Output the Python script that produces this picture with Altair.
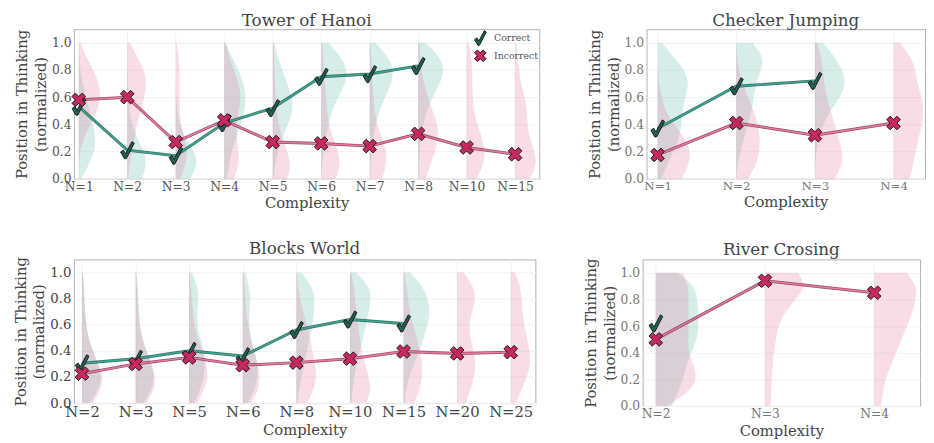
import altair as alt
import pandas as pd

FONT = "DejaVu Serif"
Y_LEVELS = [0.0, 0.1, 0.2, 0.3, 0.4, 0.5, 0.6, 0.7, 0.8, 0.9, 1.0]
Y_TICKS = [0.0, 0.2, 0.4, 0.6, 0.8, 1.0]

# ---------------- Tower of Hanoi ----------------
HANOI_N = ["N=1", "N=2", "N=3", "N=4", "N=5", "N=6", "N=7", "N=8", "N=10", "N=15"]
HANOI_CORRECT = [0.53, 0.21, 0.17, 0.41, 0.52, 0.75, 0.77, 0.83, None, None]
HANOI_INCORRECT = [0.58, 0.60, 0.27, 0.43, 0.27, 0.26, 0.24, 0.33, 0.23, 0.18]
HANOI_VIOLIN_CORRECT = [
    [0.05, 0.20, 0.33, 0.35, 0.30, 0.22, 0.15, 0.08, 0.03, 0.0, 0.0],
    [0.30, 0.40, 0.35, 0.20, 0.10, 0.05, 0.03, 0.02, 0.0, 0.0, 0.0],
    [0.30, 0.45, 0.40, 0.20, 0.08, 0.03, 0.01, 0.0, 0.0, 0.0, 0.0],
    [0.05, 0.10, 0.15, 0.25, 0.35, 0.42, 0.45, 0.40, 0.30, 0.15, 0.03],
    [0.02, 0.05, 0.10, 0.20, 0.32, 0.42, 0.40, 0.30, 0.20, 0.10, 0.03],
    [0.0, 0.02, 0.05, 0.10, 0.15, 0.22, 0.35, 0.50, 0.55, 0.40, 0.15],
    [0.0, 0.02, 0.04, 0.08, 0.12, 0.20, 0.32, 0.45, 0.50, 0.38, 0.12],
    [0.0, 0.02, 0.03, 0.05, 0.10, 0.18, 0.30, 0.45, 0.55, 0.45, 0.15],
    None,
    None,
]
HANOI_VIOLIN_INCORRECT = [
    [0.0, 0.0, 0.02, 0.10, 0.25, 0.38, 0.45, 0.42, 0.30, 0.15, 0.03],
    [0.02, 0.05, 0.10, 0.15, 0.20, 0.28, 0.35, 0.40, 0.35, 0.20, 0.05],
    [0.10, 0.20, 0.25, 0.18, 0.10, 0.08, 0.08, 0.08, 0.08, 0.06, 0.02],
    [0.20, 0.30, 0.30, 0.25, 0.25, 0.30, 0.35, 0.30, 0.20, 0.10, 0.02],
    [0.30, 0.38, 0.30, 0.20, 0.12, 0.08, 0.06, 0.05, 0.04, 0.03, 0.01],
    [0.30, 0.40, 0.35, 0.25, 0.15, 0.12, 0.10, 0.08, 0.06, 0.04, 0.02],
    [0.25, 0.35, 0.35, 0.25, 0.15, 0.10, 0.08, 0.06, 0.05, 0.03, 0.01],
    [0.15, 0.25, 0.35, 0.42, 0.40, 0.30, 0.20, 0.12, 0.07, 0.04, 0.02],
    [0.20, 0.35, 0.38, 0.32, 0.22, 0.15, 0.12, 0.12, 0.12, 0.10, 0.04],
    [0.30, 0.45, 0.40, 0.30, 0.25, 0.25, 0.20, 0.12, 0.08, 0.05, 0.02],
]

# ---------------- Checker Jumping ----------------
CHECKER_N = ["N=1", "N=2", "N=3", "N=4"]
CHECKER_CORRECT = [0.37, 0.68, 0.72, None]
CHECKER_INCORRECT = [0.175, 0.41, 0.32, 0.41]
CHECKER_VIOLIN_CORRECT = [
    [0.05, 0.12, 0.20, 0.28, 0.30, 0.32, 0.35, 0.40, 0.35, 0.20, 0.05],
    [0.0, 0.02, 0.05, 0.10, 0.15, 0.20, 0.22, 0.25, 0.32, 0.35, 0.20],
    [0.0, 0.0, 0.02, 0.05, 0.10, 0.20, 0.32, 0.40, 0.35, 0.25, 0.10],
    None,
]
CHECKER_VIOLIN_INCORRECT = [
    [0.30, 0.40, 0.42, 0.35, 0.20, 0.10, 0.05, 0.02, 0.0, 0.0, 0.0],
    [0.15, 0.25, 0.30, 0.30, 0.28, 0.22, 0.15, 0.08, 0.03, 0.01, 0.0],
    [0.25, 0.35, 0.35, 0.30, 0.25, 0.20, 0.15, 0.12, 0.10, 0.08, 0.03],
    [0.20, 0.25, 0.28, 0.32, 0.36, 0.38, 0.36, 0.30, 0.28, 0.22, 0.08],
]

# ---------------- Blocks World ----------------
BLOCKS_N = ["N=2", "N=3", "N=5", "N=6", "N=8", "N=10", "N=15", "N=20", "N=25"]
BLOCKS_CORRECT = [0.305, 0.34, 0.40, 0.36, 0.56, 0.64, 0.61, None, None]
BLOCKS_INCORRECT = [0.225, 0.30, 0.35, 0.29, 0.31, 0.34, 0.395, 0.38, 0.39]
BLOCKS_VIOLIN_CORRECT = [
    [0.15, 0.30, 0.38, 0.30, 0.20, 0.12, 0.08, 0.06, 0.05, 0.04, 0.02],
    [0.15, 0.30, 0.35, 0.30, 0.20, 0.12, 0.08, 0.06, 0.05, 0.04, 0.02],
    [0.10, 0.20, 0.28, 0.30, 0.28, 0.20, 0.15, 0.15, 0.18, 0.15, 0.05],
    [0.10, 0.22, 0.28, 0.28, 0.22, 0.15, 0.12, 0.12, 0.15, 0.12, 0.04],
    [0.02, 0.05, 0.10, 0.15, 0.20, 0.25, 0.30, 0.33, 0.35, 0.28, 0.10],
    [0.02, 0.05, 0.08, 0.12, 0.18, 0.25, 0.30, 0.35, 0.40, 0.35, 0.12],
    [0.02, 0.05, 0.10, 0.20, 0.30, 0.38, 0.45, 0.50, 0.45, 0.35, 0.12],
    None,
    None,
]
BLOCKS_VIOLIN_INCORRECT = [
    [0.20, 0.35, 0.40, 0.30, 0.20, 0.12, 0.08, 0.05, 0.04, 0.03, 0.01],
    [0.20, 0.35, 0.38, 0.30, 0.20, 0.12, 0.07, 0.05, 0.04, 0.03, 0.01],
    [0.15, 0.28, 0.35, 0.33, 0.25, 0.15, 0.10, 0.07, 0.05, 0.03, 0.01],
    [0.15, 0.30, 0.32, 0.28, 0.20, 0.14, 0.10, 0.07, 0.05, 0.03, 0.01],
    [0.20, 0.32, 0.38, 0.35, 0.30, 0.25, 0.20, 0.12, 0.07, 0.03, 0.01],
    [0.30, 0.40, 0.35, 0.28, 0.22, 0.18, 0.15, 0.12, 0.10, 0.07, 0.02],
    [0.20, 0.30, 0.35, 0.35, 0.30, 0.25, 0.18, 0.12, 0.08, 0.05, 0.02],
    [0.15, 0.25, 0.32, 0.35, 0.30, 0.25, 0.22, 0.28, 0.35, 0.30, 0.12],
    [0.10, 0.20, 0.30, 0.37, 0.35, 0.30, 0.25, 0.22, 0.20, 0.18, 0.08],
]

# ---------------- River Crossing ----------------
RIVER_N = ["N=2", "N=3", "N=4"]
RIVER_CORRECT = [0.62, None, None]
RIVER_INCORRECT = [0.50, 0.94, 0.85]
RIVER_VIOLIN_CORRECT = [
    [0.15, 0.20, 0.25, 0.28, 0.32, 0.38, 0.39, 0.39, 0.38, 0.36, 0.20],
    None,
    None,
]
RIVER_VIOLIN_INCORRECT = [
    [0.10, 0.30, 0.38, 0.35, 0.30, 0.30, 0.30, 0.30, 0.30, 0.30, 0.25],
    [0.05, 0.06, 0.06, 0.07, 0.08, 0.10, 0.12, 0.18, 0.28, 0.38, 0.30],
    [0.06, 0.08, 0.10, 0.15, 0.20, 0.25, 0.30, 0.35, 0.38, 0.39, 0.30],
]

TEAL_FILL = "#76c5bb"
PINK_FILL = "#e98aab"
TEAL_LINE = "#3aa595"
TEAL_EDGE = "#1f5a50"
PINK_LINE = "#e87aa3"
PINK_EDGE = "#80304f"
CHECK_FILL = "#1d6456"
X_FILL = "#c8285f"

CHECK_PATH = "M-0.78,0.22 L-0.45,-0.02 L-0.2,0.42 L0.55,-1 L0.82,-0.82 L-0.12,1 L-0.32,1 Z"
X_PATH = ("M-0.8,-0.4 L-0.4,-0.8 L0,-0.4 L0.4,-0.8 L0.8,-0.4 L0.4,0 L0.8,0.4 "
          "L0.4,0.8 L0,0.4 L-0.4,0.8 L-0.8,0.4 L-0.4,0 Z")


def panel(title, labels, correct, incorrect, vc, vi, width, height, xdom,
          xlab_size, ylab_size, lab_color, legend=False):
    n = len(labels)
    rows = []
    for i in range(n):
        for series, dens in (("Correct", vc[i]), ("Incorrect", vi[i])):
            if dens is None:
                continue
            for y, w in zip(Y_LEVELS, dens):
                rows.append(dict(idx=i, series=series, key=f"{series}{i}", y=y, x0=i, x1=i + w))
    vdf = pd.DataFrame(rows)
    pts = []
    for i in range(n):
        if correct[i] is not None:
            pts.append(dict(idx=i, series="Correct", v=correct[i]))
    for i in range(n):
        if incorrect[i] is not None:
            pts.append(dict(idx=i, series="Incorrect", v=incorrect[i]))
    pdf = pd.DataFrame(pts)

    label_expr = "[" + ",".join(f"'{l}'" for l in labels) + "][datum.value]"
    xscale = alt.Scale(domain=xdom, nice=False, zero=False)
    yscale = alt.Scale(domain=[0, 1.1], nice=False, zero=False)
    xaxis = alt.Axis(values=list(range(n)), labelExpr=label_expr, title="Complexity",
                     labelFontSize=xlab_size, labelColor=lab_color, labelFont=FONT,
                     titleFont=FONT, titleFontSize=15, titleFontWeight="normal", titleColor="#444",
                     ticks=False, domain=False, grid=True, gridColor="#f2f2f2",
                     labelPadding=2, titlePadding=3, labelFlush=False, labelOverlap=False)
    yaxis = alt.Axis(values=Y_TICKS, format=".1f", title=["Position in Thinking", "(normalized)"],
                     labelFontSize=ylab_size, labelColor=lab_color, labelFont=FONT,
                     titleFont=FONT, titleFontSize=15, titleFontWeight="normal", titleColor="#444",
                     titleLineHeight=19, ticks=False, domain=False, grid=True, gridColor="#f2f2f2",
                     labelPadding=3, titlePadding=3, labelFlush=False, labelOverlap=False)

    X = alt.X("x1:Q", scale=xscale, axis=xaxis)
    Y = alt.Y("y:Q", scale=yscale, axis=yaxis)
    vbase = alt.Chart(vdf)
    area_c = vbase.transform_filter("datum.series == 'Correct'").mark_area(
        orient="horizontal", interpolate="basis", color=TEAL_FILL, opacity=0.3
    ).encode(y=Y, x=X, x2="x0:Q", detail="key:N")
    area_i = vbase.transform_filter("datum.series == 'Incorrect'").mark_area(
        orient="horizontal", interpolate="basis", color=PINK_FILL, opacity=0.3
    ).encode(y=Y, x=X, x2="x0:Q", detail="key:N")

    pbase = alt.Chart(pdf)
    px = alt.X("idx:Q", scale=xscale, axis=xaxis)
    py = alt.Y("v:Q", scale=yscale, axis=yaxis)
    layers = [area_c, area_i]
    for series, edge, line in (("Correct", TEAL_EDGE, TEAL_LINE), ("Incorrect", PINK_EDGE, PINK_LINE)):
        sub = pbase.transform_filter(f"datum.series == '{series}'")
        layers.append(sub.mark_line(color=edge, strokeWidth=3.0, opacity=0.85).encode(x=px, y=py))
        layers.append(sub.mark_line(color=line, strokeWidth=1.5).encode(x=px, y=py))

    if legend:
        leg = alt.Legend(title=None, orient="top-right", offset=0, padding=1,
                         labelFont=FONT, labelFontSize=9.5, labelColor="#555",
                         symbolSize=220, symbolStrokeWidth=1, rowPadding=0, labelOffset=6)
    else:
        leg = None
    pts_layer = pbase.mark_point(filled=True, size=300, stroke="#1a1a1a", strokeWidth=1,
                                 opacity=1).encode(
        x=px, y=py,
        shape=alt.Shape("series:N", scale=alt.Scale(domain=["Correct", "Incorrect"],
                                                    range=[CHECK_PATH, X_PATH]), legend=leg),
        color=alt.Color("series:N", scale=alt.Scale(domain=["Correct", "Incorrect"],
                                                    range=[CHECK_FILL, X_FILL]), legend=leg),
        order=alt.Order("series:N"),
    )
    layers.append(pts_layer)

    return alt.layer(*layers).properties(
        width=width, height=height,
        title=alt.TitleParams(title, font=FONT, fontSize=17, fontWeight="normal",
                              color="#444", offset=-1),
    )


hanoi = panel("Tower of Hanoi", HANOI_N, HANOI_CORRECT, HANOI_INCORRECT,
              HANOI_VIOLIN_CORRECT, HANOI_VIOLIN_INCORRECT, 473, 152, [-0.1, 9.5],
              12.5, 12.5, "#555", legend=True)
checker = panel("Checker Jumping", CHECKER_N, CHECKER_CORRECT, CHECKER_INCORRECT,
                CHECKER_VIOLIN_CORRECT, CHECKER_VIOLIN_INCORRECT, 283, 152, [-0.14, 3.4],
                12, 12.5, "#777")
blocks = panel("Blocks World", BLOCKS_N, BLOCKS_CORRECT, BLOCKS_INCORRECT,
               BLOCKS_VIOLIN_CORRECT, BLOCKS_VIOLIN_INCORRECT, 469, 146, [-0.15, 8.46],
               15, 13.5, "#444")
river = panel("River Crosing", RIVER_N, RIVER_CORRECT, RIVER_INCORRECT,
              RIVER_VIOLIN_CORRECT, RIVER_VIOLIN_INCORRECT, 282, 149, [-0.12, 2.42],
              12.5, 12.5, "#777")

top = alt.hconcat(hanoi, checker, spacing=47).resolve_scale(
    color="independent", shape="independent", x="independent", y="independent")
bottom = alt.hconcat(blocks, river, spacing=47).resolve_scale(
    color="independent", shape="independent", x="independent", y="independent")

chart = alt.vconcat(top, bottom, spacing=28).resolve_scale(
    color="independent", shape="independent", x="independent", y="independent"
).configure(
    padding={"left": 5, "top": 0, "right": 0, "bottom": 0},
    background="white",
).configure_axis(
    labelOverlap=False
).configure_view(stroke="#b0b0b0", strokeWidth=1)

chart.save("out.html", embed_options={"renderer": "svg", "actions": False})
